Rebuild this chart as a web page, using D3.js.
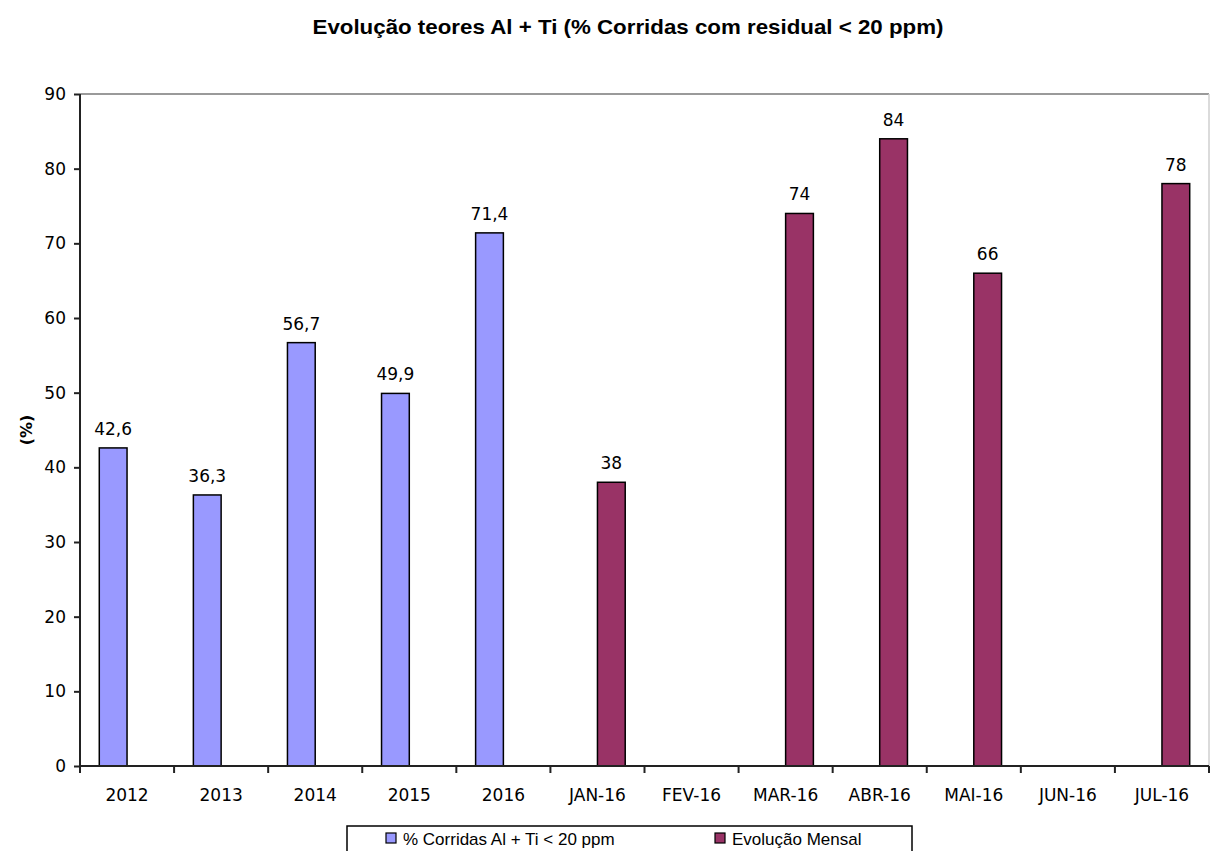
<!DOCTYPE html>
<html>
<head>
<meta charset="utf-8">
<script src="https://cdn.jsdelivr.net/npm/d3@7"></script>
<style>
  html, body { margin: 0; padding: 0; background: #fff; }
  svg { display: block; }
</style>
</head>
<body>
<div id="chart"></div>
<script>
// Categories along the x axis: yearly totals, then monthly results for 2016
const categories = ["2012", "2013", "2014", "2015", "2016",
  "JAN-16", "FEV-16", "MAR-16", "ABR-16", "MAI-16", "JUN-16", "JUL-16"];

// Series names (legend order)
const seriesNames = ["% Corridas Al + Ti < 20 ppm", "Evolução Mensal"];

// Yearly share of heats with residual below 20 ppm (null = no bar)
const yearlyValues = [42.6, 36.3, 56.7, 49.9, 71.4, null, null, null, null, null, null, null];

// Monthly evolution (null = no data for that month)
const monthlyValues = [null, null, null, null, null, 38, null, 74, 84, 66, null, 78];

// Y axis ticks
const yTicks = [0, 10, 20, 30, 40, 50, 60, 70, 80, 90];

const colors = ["#9999FF", "#993366"];

const W = 1211, H = 851;
const margin = { top: 94, right: 2, bottom: 85, left: 80 };
const plotW = W - margin.left - margin.right;
const plotH = H - margin.top - margin.bottom;

const ptBR = d3.formatLocale({ decimal: ",", thousands: ".", grouping: [3], currency: ["R$", ""] });
const labelFormats = [ptBR.format(".1f"), ptBR.format(".0f")];

const svg = d3.select("#chart").append("svg")
  .attr("width", W).attr("height", H);

// Title
svg.append("text")
  .attr("x", 628).attr("y", 34)
  .attr("text-anchor", "middle")
  .attr("font-family", "'Liberation Sans Narrow', 'Liberation Sans', Arial, sans-serif")
  .attr("font-weight", "bold")
  .attr("font-size", 21)
  .attr("textLength", 631)
  .attr("lengthAdjust", "spacingAndGlyphs")
  .attr("fill", "#000")
  .text("Evolução teores Al + Ti (% Corridas com residual < 20 ppm)");

const g = svg.append("g").attr("transform", `translate(${margin.left},${margin.top})`);

const x0 = d3.scaleBand().domain(categories).range([0, plotW]).padding(0);
const step = x0.step();
const gap = step * 0.205;
const x1 = d3.scaleBand().domain([0, 1]).range([gap, step - gap]).padding(0);
const y = d3.scaleLinear().domain([0, 90]).range([plotH, 0]);

// Plot area border (top and right)
g.append("line").attr("x1", 0).attr("x2", plotW).attr("y1", 0).attr("y2", 0)
  .attr("stroke", "#9a9a9a").attr("stroke-width", 2);
g.append("line").attr("x1", plotW).attr("x2", plotW).attr("y1", 0).attr("y2", plotH)
  .attr("stroke", "#cfcfcf").attr("stroke-width", 1.5);

// Bars and value labels, one pass per series
const seriesData = [yearlyValues, monthlyValues];

seriesData.forEach((vals, s) => {
  const items = categories.map((c, i) => ({ cat: c, v: vals[i] })).filter(d => d.v != null);
  g.selectAll(".bar-" + s).data(items).enter().append("rect")
    .attr("class", "bar-" + s)
    .attr("x", d => x0(d.cat) + x1(s))
    .attr("width", x1.bandwidth())
    .attr("y", d => y(d.v))
    .attr("height", d => y(0) - y(d.v))
    .attr("fill", colors[s])
    .attr("stroke", "#000")
    .attr("stroke-width", 1.5);
  g.selectAll(".lbl-" + s).data(items).enter().append("text")
    .attr("class", "lbl-" + s)
    .attr("x", d => x0(d.cat) + x1(s) + x1.bandwidth() / 2)
    .attr("y", d => y(d.v) - 13)
    .attr("text-anchor", "middle")
    .attr("font-family", "'DejaVu Sans', sans-serif")
    .attr("font-size", 17)
    .attr("fill", "#000")
    .text(d => labelFormats[s](d.v));
});

// Y axis
const yAxis = d3.axisLeft(y).tickValues(yTicks).tickSize(6).tickPadding(8);
const yg = g.append("g").call(yAxis);
yg.select(".domain").attr("stroke", "#222").attr("stroke-width", 2).attr("d", `M0,${plotH}V0`);
yg.selectAll(".tick line").attr("stroke", "#222").attr("stroke-width", 2);
yg.selectAll(".tick text")
  .attr("font-family", "'DejaVu Sans', sans-serif")
  .attr("font-size", 17)
  .attr("fill", "#000");

// X axis with ticks on category boundaries
const xAxis = d3.axisBottom(x0).tickSize(0).tickPadding(23);
const xg = g.append("g").attr("transform", `translate(0,${plotH})`).call(xAxis);
xg.select(".domain").attr("stroke", "#222").attr("stroke-width", 2).attr("d", `M0,0H${plotW}`);
xg.selectAll(".tick text")
  .attr("font-family", "'DejaVu Sans', sans-serif")
  .attr("font-size", 17)
  .attr("fill", "#000");
const bounds = d3.range(categories.length + 1).map(i => i * step);
xg.selectAll(".bound").data(bounds).enter().append("line")
  .attr("class", "bound")
  .attr("x1", d => d).attr("x2", d => d)
  .attr("y1", 0).attr("y2", 7)
  .attr("stroke", "#222").attr("stroke-width", 2);

// Y axis title
svg.append("text")
  .attr("transform", `translate(32,${margin.top + plotH / 2}) rotate(-90)`)
  .attr("text-anchor", "middle")
  .attr("font-family", "'DejaVu Sans', sans-serif")
  .attr("font-weight", "bold")
  .attr("font-size", 16)
  .attr("fill", "#000")
  .text("(%)");

// Legend
const legend = svg.append("g");
legend.append("rect")
  .attr("x", 347).attr("y", 826).attr("width", 565).attr("height", 40)
  .attr("fill", "#fff").attr("stroke", "#000").attr("stroke-width", 1.5);
const legendX = [386, 715];
seriesNames.forEach((name, s) => {
  legend.append("rect")
    .attr("x", legendX[s]).attr("y", 833).attr("width", 10).attr("height", 10)
    .attr("fill", colors[s]).attr("stroke", "#000").attr("stroke-width", 1.2);
  legend.append("text")
    .attr("x", legendX[s] + 17).attr("y", 845)
    .attr("font-family", "'Liberation Sans', Arial, sans-serif")
    .attr("font-size", 17)
    .attr("fill", "#000")
    .text(name);
});
</script>
</body>
</html>
